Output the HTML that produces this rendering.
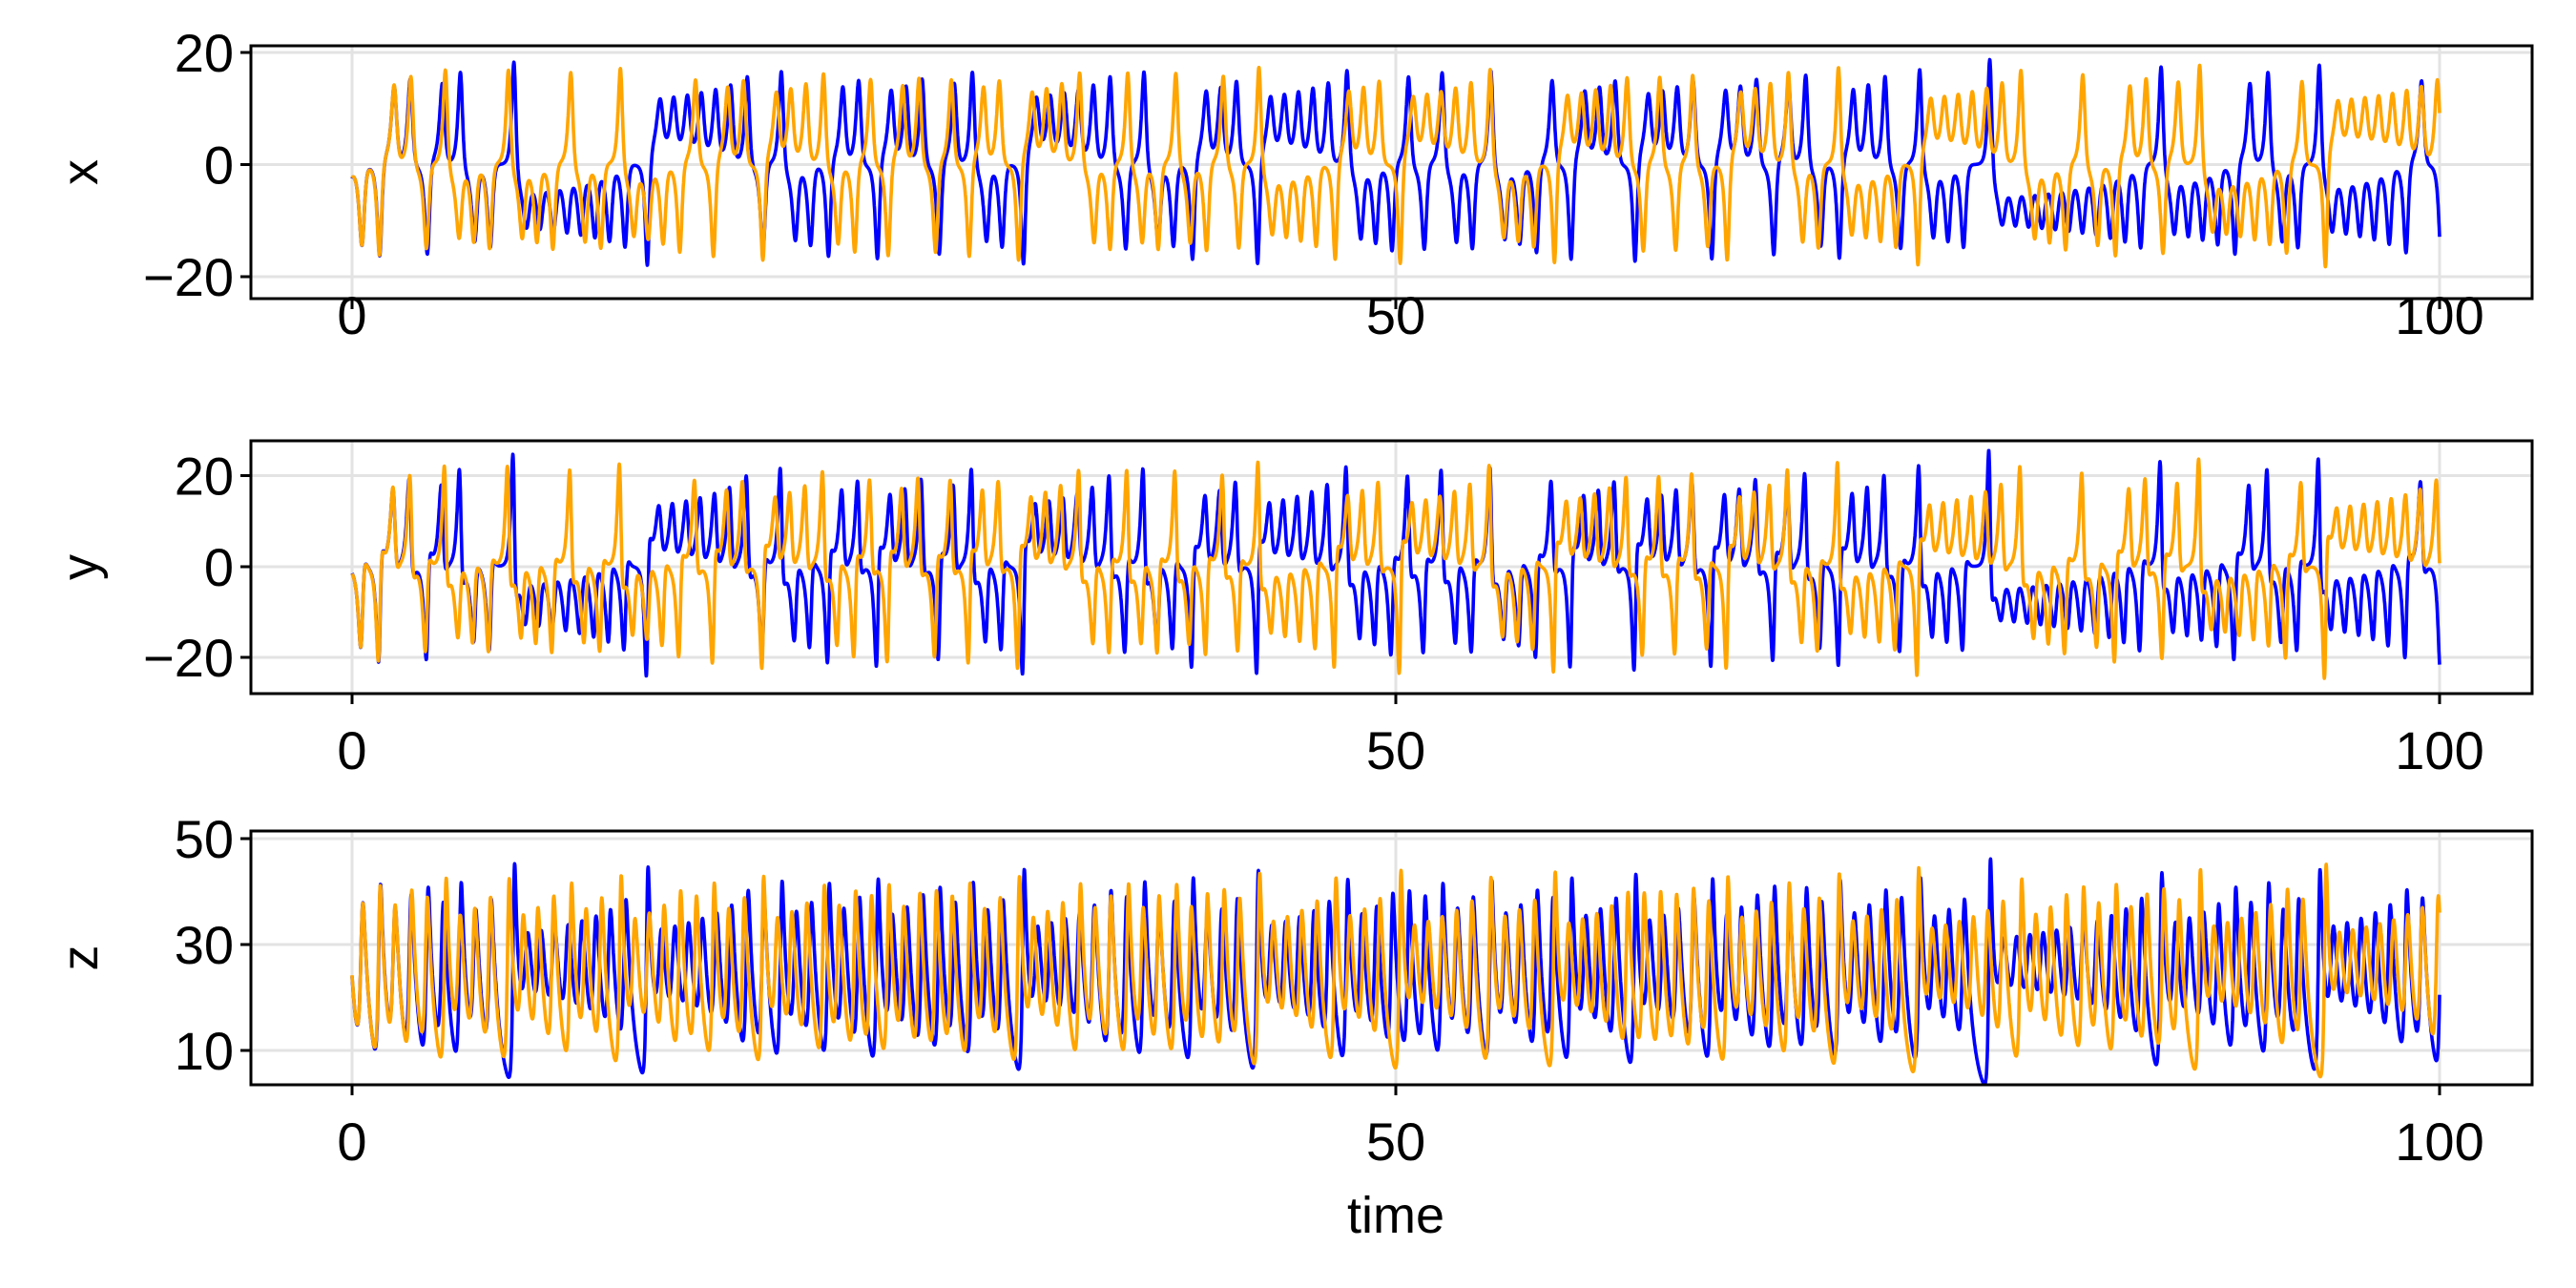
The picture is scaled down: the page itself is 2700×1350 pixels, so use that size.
<!DOCTYPE html>
<html><head><meta charset="utf-8"><style>
html,body{margin:0;padding:0;background:#fff;}
svg{display:block;}
text{font-family:"Liberation Sans",sans-serif;fill:#000;}
</style></head><body>
<svg id="s" width="2700" height="1350" viewBox="0 0 2700 1350" xmlns="http://www.w3.org/2000/svg"></svg>
<script>
(function(){
var S=document.getElementById('s');var NS='http://www.w3.org/2000/svg';
function el(n,a,t){var e=document.createElementNS(NS,n);for(var k in a)e.setAttribute(k,a[k]);if(t!==undefined)e.textContent=t;S.appendChild(e);return e;}
var X0=369,X1=2557,L=263,R=2654;
function tx(t){return X0+(X1-X0)*t/100;}
var panels=[
 {top:48,bot:313,ticks:[[20,55],[0,172.5],[-20,290]],lab:'x',xl:330},
 {top:462,bot:727,ticks:[[20,498.5],[0,594],[-20,689]],lab:'y',xl:786},
 {top:871,bot:1137,ticks:[[50,879],[30,990],[10,1101]],lab:'z',xl:1196}
];
function run(x,y,z){var dt=0.005,n=20000,o=[[x],[y],[z]];
 function f(a,b,c){return [10*(b-a),a*(28-c)-b,a*b-8/3*c];}
 for(var i=0;i<n;i++){var k1=f(x,y,z),k2=f(x+dt/2*k1[0],y+dt/2*k1[1],z+dt/2*k1[2]),k3=f(x+dt/2*k2[0],y+dt/2*k2[1],z+dt/2*k2[2]),k4=f(x+dt*k3[0],y+dt*k3[1],z+dt*k3[2]);
 x+=dt/6*(k1[0]+2*k2[0]+2*k3[0]+k4[0]);y+=dt/6*(k1[1]+2*k2[1]+2*k3[1]+k4[1]);z+=dt/6*(k1[2]+2*k2[2]+2*k3[2]+k4[2]);
 if((i+1)%2==0){o[0].push(x);o[1].push(y);o[2].push(z);}}return o;}
var A=run(-2.5,-1.5,24),B=run(-2.4,-1.6,24.2);
panels.forEach(function(p,pi){
 var t0=p.ticks[0],t1=p.ticks[2];var sc=(t1[1]-t0[1])/(t1[0]-t0[0]);
 function ty(v){return t0[1]+(v-t0[0])*sc;}
 p.ticks.forEach(function(t){el('line',{x1:L,x2:R,y1:t[1],y2:t[1],stroke:'#e3e3e3','stroke-width':3});});
 [0,50,100].forEach(function(v){el('line',{x1:tx(v),x2:tx(v),y1:p.top,y2:p.bot,stroke:'#e3e3e3','stroke-width':3});});
 var cp='c'+pi;var d=el('clipPath',{id:cp});var r=document.createElementNS(NS,'rect');r.setAttribute('x',L);r.setAttribute('y',p.top);r.setAttribute('width',R-L);r.setAttribute('height',p.bot-p.top);d.appendChild(r);
 [[A,'#0000ff'],[B,'#ffa500']].forEach(function(s){var arr=s[0][pi],pts=[];for(var i=0;i<arr.length;i++){pts.push(tx(i*0.01).toFixed(1)+','+ty(arr[i]).toFixed(1));}
  el('polyline',{points:pts.join(' '),fill:'none',stroke:s[1],'stroke-width':3.6,'stroke-linejoin':'round','clip-path':'url(#'+cp+')'});});
 el('rect',{x:L,y:p.top,width:R-L,height:p.bot-p.top,fill:'none',stroke:'#000','stroke-width':3});
 p.ticks.forEach(function(t){el('line',{x1:L-11,x2:L,y1:t[1],y2:t[1],stroke:'#000','stroke-width':3});
  el('text',{x:L-18,y:t[1]+20,'text-anchor':'end','font-size':56},(t[0]<0?'\u2212'+(-t[0]):t[0]));});
 [0,50,100].forEach(function(v){el('line',{x1:tx(v),x2:tx(v),y1:p.bot,y2:p.bot+11,stroke:'#000','stroke-width':3});
  el('text',{x:tx(v),y:p.xl+20,'text-anchor':'middle','font-size':56},v);});
 var cy=(p.top+p.bot)/2;
 el('text',{x:102,y:cy,'text-anchor':'middle','font-size':54,transform:'rotate(-90 102 '+cy+')'},p.lab);
});
el('text',{x:1463,y:1292,'text-anchor':'middle','font-size':54},'time');
})();
</script>
</body></html>
